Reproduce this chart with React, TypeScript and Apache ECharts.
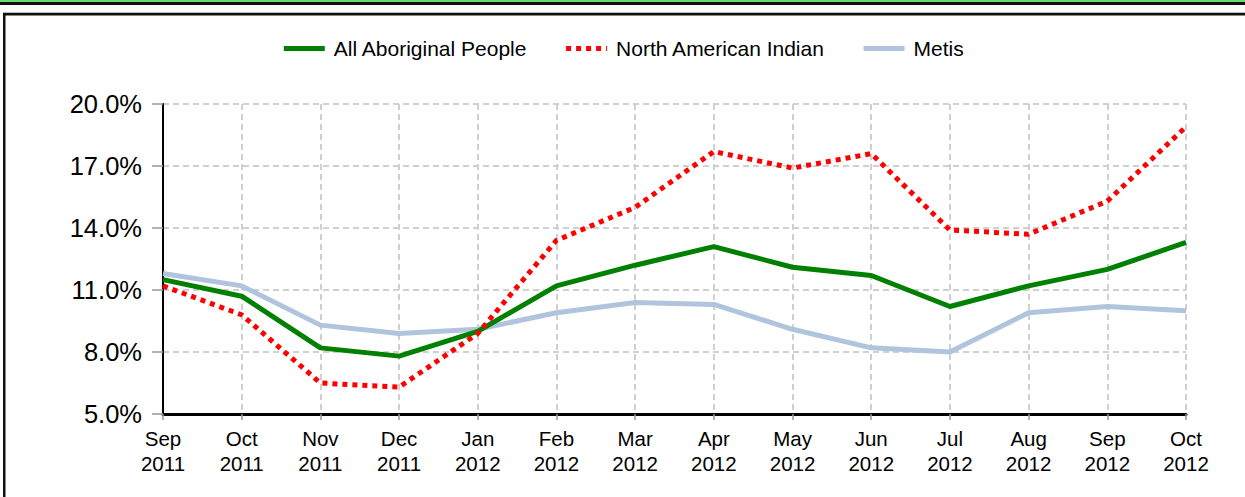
import React, { useEffect, useRef } from "react";
import * as echarts from "echarts";

const months = ["Sep\n2011", "Oct\n2011", "Nov\n2011", "Dec\n2011", "Jan\n2012", "Feb\n2012", "Mar\n2012", "Apr\n2012", "May\n2012", "Jun\n2012", "Jul\n2012", "Aug\n2012", "Sep\n2012", "Oct\n2012"];
const allAboriginal = [11.5, 10.7, 8.2, 7.8, 9.0, 11.2, 12.2, 13.1, 12.1, 11.7, 10.2, 11.2, 12.0, 13.3];
const northAmericanIndian = [11.2, 9.8, 6.5, 6.3, 8.9, 13.4, 15.0, 17.7, 16.9, 17.6, 13.9, 13.7, 15.3, 18.9];
const metis = [11.8, 11.2, 9.3, 8.9, 9.1, 9.9, 10.4, 10.3, 9.1, 8.2, 8.0, 9.9, 10.2, 10.0];
const seriesNames = ["All Aboriginal People", "North American Indian", "Metis"];

const FONT = "Arial, 'Liberation Sans', sans-serif";

export default function App() {
  const ref = useRef<HTMLDivElement>(null);
  useEffect(() => {
    if (!ref.current) return;
    const chart = echarts.init(ref.current, undefined, { renderer: "svg" });
    const gridDash = { color: "#d0d0d0", width: 2, type: [6, 4] as number[] };
    chart.setOption({
      animation: false,
      backgroundColor: "#fff",
      textStyle: { fontFamily: FONT },
      graphic: [
        { type: "rect", shape: { x: 0, y: 0, width: 1245, height: 2 }, style: { fill: "#72d872" }, silent: true },
        { type: "rect", shape: { x: 0, y: 2, width: 1245, height: 3 }, style: { fill: "#111" }, silent: true },
        { type: "rect", shape: { x: 3, y: 12, width: 1242, height: 1 }, style: { fill: "#bbb" }, silent: true },
        { type: "rect", shape: { x: 3, y: 13, width: 1242, height: 2.5 }, style: { fill: "#111" }, silent: true },
        { type: "rect", shape: { x: 3, y: 13, width: 2.5, height: 484 }, style: { fill: "#111" }, silent: true },
      ],
      legend: {
        top: 33,
        left: "center",
        itemWidth: 41,
        itemHeight: 14,
        itemGap: 36,
        itemStyle: { opacity: 0 },
        lineStyle: { width: 5 },
        textStyle: { fontSize: 21, color: "#000", fontFamily: FONT, padding: [0, 0, 0, 4] },
        data: seriesNames,
      },
      grid: { left: 163, right: 59, top: 104, bottom: 83 },
      xAxis: {
        type: "category",
        boundaryGap: false,
        data: months,
        axisLine: { show: true, lineStyle: { color: "#000", width: 3 } },
        axisTick: { show: true, alignWithLabel: true, length: 6, lineStyle: { color: "#999", width: 1.5 } },
        axisLabel: { fontSize: 20.5, color: "#000", lineHeight: 25, margin: 12, fontFamily: FONT },
        splitLine: { show: true, lineStyle: gridDash },
      },
      yAxis: {
        type: "value",
        min: 5,
        max: 20,
        interval: 3,
        axisLine: { show: true, lineStyle: { color: "#000", width: 2 } },
        axisTick: { show: true, length: 11, lineStyle: { color: "#999", width: 1.5 } },
        axisLabel: { fontSize: 25.5, color: "#000", margin: 21, fontFamily: FONT, formatter: (v: number) => v.toFixed(1) + "%" },
        splitLine: { show: true, lineStyle: gridDash },
      },
      series: [
        {
          name: seriesNames[0],
          type: "line",
          data: allAboriginal,
          showSymbol: false,
          symbol: "none",
          itemStyle: { color: "#008000" },
          lineStyle: { color: "#008000", width: 5 },
          z: 3,
        },
        {
          name: seriesNames[1],
          type: "line",
          data: northAmericanIndian,
          showSymbol: false,
          symbol: "none",
          itemStyle: { color: "#ff0000" },
          lineStyle: { color: "#ff0000", width: 5, type: [5, 5], cap: "butt" },
          z: 4,
        },
        {
          name: seriesNames[2],
          type: "line",
          data: metis,
          showSymbol: false,
          symbol: "none",
          itemStyle: { color: "#b0c4de" },
          lineStyle: { color: "#b0c4de", width: 5 },
          z: 2,
        },
      ],
    });
    return () => chart.dispose();
  }, []);
  return (
    <div
      ref={ref}
      style={{ position: "fixed", left: 0, top: 0, width: 1245, height: 497, background: "#fff" }}
    />
  );
}
